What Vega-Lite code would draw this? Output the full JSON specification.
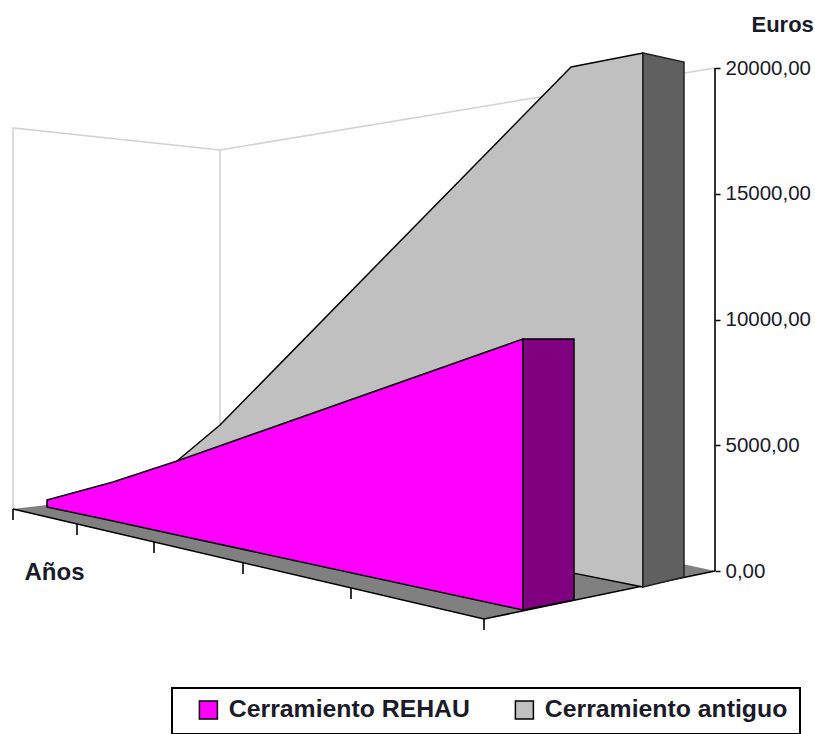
{
"$schema":"https://vega.github.io/schema/vega-lite/v6.json",
"width":715,"height":734,"autosize":{"type":"none"},
"padding":{"left":0,"top":0,"right":100,"bottom":0},
"background":"white",
"config":{"view":{"stroke":null},"font":"Liberation Sans","legend":{"strokeWidth":2},"locale":{"number":{"decimal":",","thousands":".","grouping":[3],"currency":["","€"]}}},
"datasets":{
"paredes":[
{"linea":"a","o":1,"anio":13,"euros":2465},{"linea":"a","o":2,"anio":13,"euros":17614},{"linea":"a","o":3,"anio":220,"euros":16739},{"linea":"a","o":4,"anio":715,"euros":20000},
{"linea":"b","o":1,"anio":220,"euros":16739},{"linea":"b","o":2,"anio":220,"euros":4294}],
"suelo":[{"anio":13,"euros":2465,"hasta":2465},{"anio":47,"euros":2624,"hasta":2147},{"anio":220,"euros":4294,"hasta":557},{"anio":484,"euros":1988,"hasta":-1909},{"anio":715,"euros":0,"hasta":0}],
"borde":[{"anio":13,"euros":2465},{"anio":484,"euros":-1909},{"anio":715,"euros":0}],
"frente":[
{"serie":"Cerramiento antiguo","anio":177,"euros":4374,"hasta":3062},{"serie":"Cerramiento antiguo","anio":220,"euros":5805,"hasta":2744},{"serie":"Cerramiento antiguo","anio":571,"euros":20040,"hasta":-64},{"serie":"Cerramiento antiguo","anio":643,"euros":20596,"hasta":-636}],
"ladoAntiguo":[{"anio":643,"euros":20596,"hasta":-636},{"anio":684,"euros":20238,"hasta":-239}],
"frenteRehau":[
{"serie":"Cerramiento REHAU","anio":47,"euros":2823,"hasta":2545},{"serie":"Cerramiento REHAU","anio":113,"euros":3539,"hasta":1988},{"serie":"Cerramiento REHAU","anio":177,"euros":4374,"hasta":1431},{"serie":"Cerramiento REHAU","anio":523,"euros":9225,"hasta":-1551}],
"ladoRehau":[{"anio":523,"euros":9225,"hasta":-1551},{"anio":574,"euros":9225,"hasta":-1153}],
"marcas":[{"anio":13,"euros":2465,"hasta":2028},{"anio":77,"euros":1869,"hasta":1431},{"anio":154,"euros":1153,"hasta":716},{"anio":243,"euros":318,"hasta":-119},{"anio":351,"euros":-676,"hasta":-1113},{"anio":484,"euros":-1909,"hasta":-2346}],
"eje":[{"anio":715,"euros":0,"hasta":20000}]
},
"encoding":{
"x":{"field":"anio","type":"quantitative","scale":{"domain":[0,715],"nice":false,"zero":false},
 "axis":{"domain":false,"ticks":false,"labels":false,"grid":false,"title":"Años","titleFont":"Liberation Sans","titleFontSize":24,"titleFontWeight":"bold","titleColor":"#1a1a2a","titleAnchor":"start","titleAlign":"left","titleBaseline":"alphabetic","titleX":24,"titleY":-155}},
"y":{"field":"euros","type":"quantitative","stack":null,"scale":{"domain":[-6481,22704],"nice":false,"zero":false},
 "axis":{"orient":"right","domain":false,"grid":false,"values":[0,5000,10000,15000,20000],"format":".2f","tickColor":"black","tickSize":5,"tickWidth":1.5,"labelPadding":5,"labelFont":"Liberation Sans","labelFontSize":20.5,"labelColor":"#1a1a2a","title":"Euros","titleFont":"Liberation Sans","titleFontSize":22,"titleFontWeight":"bold","titleColor":"#1a1a2a","titleAngle":0,"titleAlign":"left","titleBaseline":"alphabetic","titleX":36,"titleY":31}}
},
"layer":[
{"data":{"name":"paredes"},"mark":{"type":"line","color":"#d2d2d2","strokeWidth":1.6},"encoding":{"detail":{"field":"linea"},"order":{"field":"o","type":"quantitative"}}},
{"data":{"name":"suelo"},"mark":{"type":"area","color":"#808080"},"encoding":{"y2":{"field":"hasta"}}},
{"data":{"name":"borde"},"mark":{"type":"line","color":"black","strokeWidth":1.6}},
{"data":{"name":"frente"},"mark":{"type":"area","stroke":"black","strokeWidth":1.5,"strokeJoin":"round"},"encoding":{"y2":{"field":"hasta"},"color":{"field":"serie","type":"nominal","scale":{"domain":["Cerramiento REHAU","Cerramiento antiguo"],"range":["#ff00ff","#c0c0c0"]},
 "legend":{"title":null,"orient":"none","legendX":172,"legendY":688,"direction":"horizontal","columns":2,"columnPadding":30,"padding":12,"clipHeight":20,"strokeColor":"black","fillColor":"white","symbolType":"square","symbolSize":324,"symbolOffset":12,"symbolStrokeColor":"black","symbolStrokeWidth":1.5,"labelFont":"Liberation Sans","labelFontSize":24.8,"labelFontWeight":"bold","labelColor":"#1a1a2a","labelOffset":8,"labelLimit":300}}}},
{"data":{"name":"ladoAntiguo"},"mark":{"type":"area","color":"#606060","stroke":"#222222","strokeWidth":1.5},"encoding":{"y2":{"field":"hasta"}}},
{"data":{"name":"frenteRehau"},"mark":{"type":"area","stroke":"black","strokeWidth":1.5,"strokeJoin":"round"},"encoding":{"y2":{"field":"hasta"},"color":{"field":"serie","type":"nominal","scale":{"domain":["Cerramiento REHAU","Cerramiento antiguo"],"range":["#ff00ff","#c0c0c0"]},"legend":null}}},
{"data":{"name":"ladoRehau"},"mark":{"type":"area","color":"#800080","stroke":"black","strokeWidth":1.5},"encoding":{"y2":{"field":"hasta"}}},
{"data":{"name":"marcas"},"mark":{"type":"rule","color":"black","strokeWidth":1.6},"encoding":{"y2":{"field":"hasta"}}},
{"data":{"name":"eje"},"mark":{"type":"rule","color":"black","strokeWidth":1.6},"encoding":{"y2":{"field":"hasta"}}}
]
}
